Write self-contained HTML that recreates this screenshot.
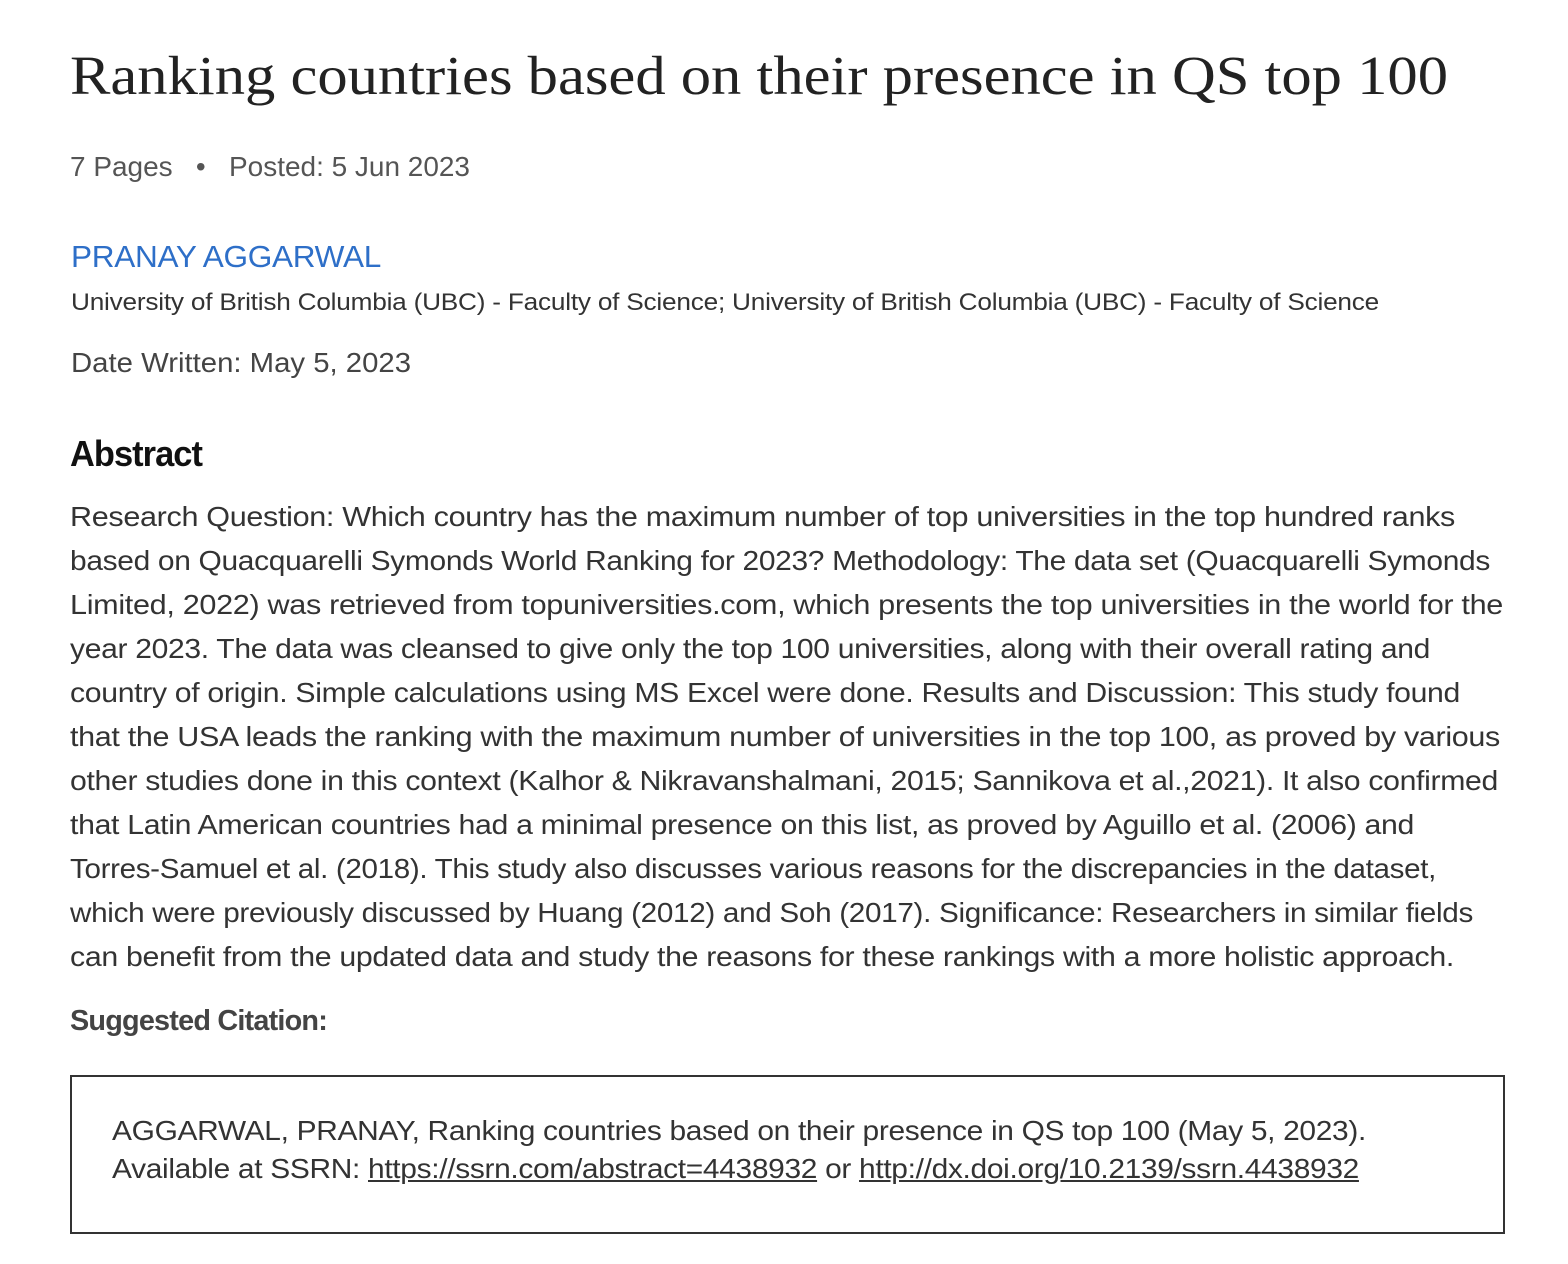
<!DOCTYPE html>
<html><head><meta charset="utf-8">
<style>
html,body{margin:0;padding:0;background:#fff;}
body{width:1568px;height:1264px;position:relative;overflow:hidden;font-family:"Liberation Sans",sans-serif;color:#333;}
.abs{position:absolute;white-space:nowrap;}
#title{left:70px;top:44px;font-family:"Liberation Serif",serif;font-size:55px;color:#222;}
#meta{left:70px;top:151px;font-size:28px;color:#555;}
#author{left:71px;top:239px;font-size:31px;color:#2e6fc8;letter-spacing:-0.3px;}
#affil{left:71px;top:289px;font-size:24px;color:#333;letter-spacing:-0.2px;}
#date{left:71px;top:347px;font-size:28px;color:#444;}
#abs-h{left:70px;top:433px;font-size:36px;font-weight:bold;color:#111;letter-spacing:-1px;}
#para{left:70px;top:495px;font-size:28px;line-height:44px;color:#333;letter-spacing:-0.3px;}
#sugg{left:70px;top:1005px;font-size:29px;font-weight:bold;color:#444;letter-spacing:-0.8px;}
#box{position:absolute;left:70px;top:1075px;width:1431px;height:155px;border:2px solid #333;}
#cite{left:112px;top:1112px;font-size:28px;line-height:38px;color:#333;letter-spacing:-0.3px;}
#cite a{color:#333;text-decoration:underline;}
</style></head><body>
<div id="title" class="abs">Ranking countries based on their presence in QS top 100</div>
<div id="meta" class="abs">7 Pages &nbsp;&nbsp;•&nbsp;&nbsp; Posted: 5 Jun 2023</div>
<div id="author" class="abs">PRANAY AGGARWAL</div>
<div id="affil" class="abs">University of British Columbia (UBC) - Faculty of Science; University of British Columbia (UBC) - Faculty of Science</div>
<div id="date" class="abs">Date Written: May 5, 2023</div>
<div id="abs-h" class="abs">Abstract</div>
<div id="para" class="abs">
<div>Research Question: Which country has the maximum number of top universities in the top hundred ranks</div>
<div>based on Quacquarelli Symonds World Ranking for 2023? Methodology: The data set (Quacquarelli Symonds</div>
<div>Limited, 2022) was retrieved from topuniversities.com, which presents the top universities in the world for the</div>
<div>year 2023. The data was cleansed to give only the top 100 universities, along with their overall rating and</div>
<div>country of origin. Simple calculations using MS Excel were done. Results and Discussion: This study found</div>
<div>that the USA leads the ranking with the maximum number of universities in the top 100, as proved by various</div>
<div>other studies done in this context (Kalhor &amp; Nikravanshalmani, 2015; Sannikova et al.,2021). It also confirmed</div>
<div>that Latin American countries had a minimal presence on this list, as proved by Aguillo et al. (2006) and</div>
<div>Torres-Samuel et al. (2018). This study also discusses various reasons for the discrepancies in the dataset,</div>
<div>which were previously discussed by Huang (2012) and Soh (2017). Significance: Researchers in similar fields</div>
<div>can benefit from the updated data and study the reasons for these rankings with a more holistic approach.</div>
</div>
<div id="sugg" class="abs">Suggested Citation:</div>
<div id="box"></div>
<div id="cite" class="abs">
<div>AGGARWAL, PRANAY, Ranking countries based on their presence in QS top 100 (May 5, 2023).</div>
<div>Available at SSRN: <a>https://ssrn.com/abstract=4438932</a> or <a>http://dx.doi.org/10.2139/ssrn.4438932</a></div>
</div>
<script>
var targets=[1385,1420,1433,1360,1390,1430,1428,1344,1366,1403,1384];
var lines=document.querySelectorAll('#para > div');
lines.forEach(function(l,i){
  l.style.display='inline-block';
  var w=l.getBoundingClientRect().width;
  l.style.transformOrigin='0 0';
  l.style.transform='scaleX('+(targets[i]/w)+')';
  l.style.display='block';
  l.style.width=w+'px';
});
function fit(id,t){var e=document.getElementById(id);var w=e.getBoundingClientRect().width;e.style.transformOrigin='0 0';e.style.transform='scaleX('+(t/w)+')';}
fit('title',1378);fit('meta',400);fit('author',310);fit('affil',1308);fit('date',340);fit('abs-h',132);fit('sugg',257);fit('cite',1254);
</script>
</body></html>
